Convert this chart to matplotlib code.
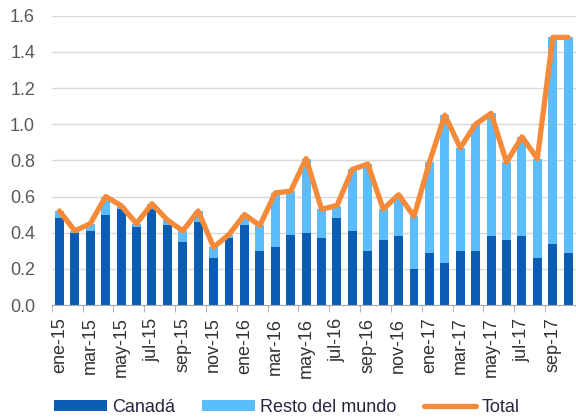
import numpy as np
import matplotlib.pyplot as plt

plt.rcParams['font.family'] = ['Liberation Sans', 'DejaVu Sans']

# Monthly values, ene-15 .. oct-17
months = ['ene', 'feb', 'mar', 'abr', 'may', 'jun',
          'jul', 'ago', 'sep', 'oct', 'nov', 'dic']
labels = [f'{m}-{y}' for y in ('15', '16', '17') for m in months][:34]

canada = [0.48, 0.40, 0.41, 0.50, 0.53, 0.43, 0.53, 0.44, 0.35, 0.46,
          0.26, 0.37, 0.44, 0.30, 0.32, 0.39, 0.40, 0.37, 0.48, 0.41,
          0.30, 0.36, 0.38, 0.20, 0.29, 0.23, 0.30, 0.30, 0.38, 0.36,
          0.38, 0.26, 0.34, 0.29]
resto = [0.04, 0.01, 0.04, 0.10, 0.02, 0.02, 0.03, 0.03, 0.06, 0.06,
         0.06, 0.02, 0.06, 0.14, 0.30, 0.24, 0.41, 0.16, 0.07, 0.34,
         0.48, 0.17, 0.23, 0.29, 0.50, 0.82, 0.57, 0.70, 0.68, 0.43,
         0.55, 0.55, 1.14, 1.19]
total = [0.52, 0.41, 0.45, 0.60, 0.55, 0.45, 0.56, 0.47, 0.41, 0.52,
         0.32, 0.39, 0.50, 0.44, 0.62, 0.63, 0.81, 0.53, 0.55, 0.75,
         0.78, 0.53, 0.61, 0.49, 0.79, 1.05, 0.87, 1.00, 1.06, 0.79,
         0.93, 0.81, 1.48, 1.48]

c_can = '#0B5DB4'
c_resto = '#5CBDFC'
c_total = '#F68A38'

fig = plt.figure(figsize=(5.76, 4.19), dpi=100)
ax = fig.add_axes([0.0898, 0.272, 0.91, 0.6905])

x = np.arange(len(labels))
b1 = ax.bar(x, canada, width=0.58, color=c_can, label='Canadá', zorder=2)
b2 = ax.bar(x, resto, width=0.58, bottom=canada, color=c_resto,
            label='Resto del mundo', zorder=2)
l1, = ax.plot(x, total, color=c_total, lw=3.8, solid_joinstyle='round',
              solid_capstyle='round', label='Total', zorder=3)

ax.set_xlim(-0.5, len(labels) - 0.5)
ax.set_ylim(0, 1.6)
ax.set_yticks(np.arange(0, 1.61, 0.2))
ax.set_yticklabels([f'{v:.1f}' for v in np.arange(0, 1.61, 0.2)])
ax.grid(axis='y', color='#D9D9D9', lw=1.0, zorder=0)
ax.set_axisbelow(True)

ax.set_xticks(x[::2])
ax.set_xticklabels(labels[::2], rotation=90)
ax.set_xticks(np.arange(-0.5, len(labels), 2), minor=True)
ax.tick_params(axis='x', which='major', length=0, pad=9, labelsize=13,
               labelcolor='#333333')
ax.tick_params(axis='x', which='minor', length=5, color='#A6A6A6')
ax.tick_params(axis='y', length=0, pad=12, labelsize=13, labelcolor='#595959')

for s in ('top', 'right', 'left'):
    ax.spines[s].set_visible(False)
ax.spines['bottom'].set_color('#A6A6A6')

fig.legend(handles=[b1, b2, l1], loc='center', bbox_to_anchor=(0.498, 0.027),
           ncol=3, frameon=False, fontsize=13, handlelength=2.9,
           handleheight=0.55, handletextpad=0.3, columnspacing=1.5,
           labelcolor='#262640')

fig.savefig('out.png', dpi=100)
